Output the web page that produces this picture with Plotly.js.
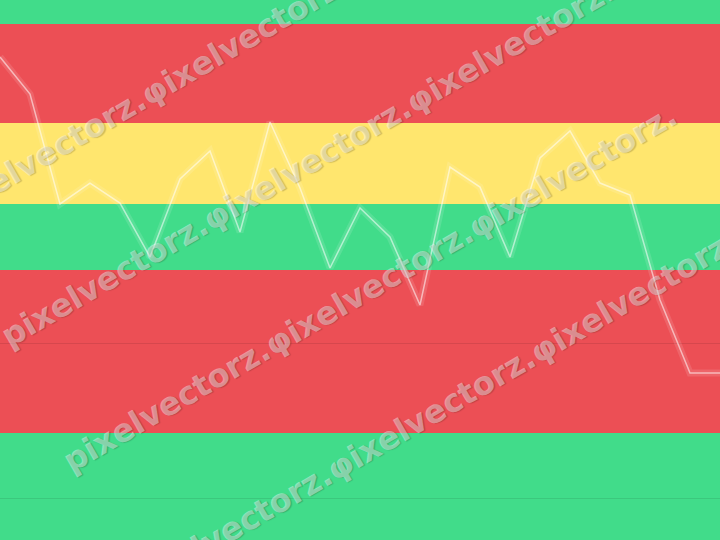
<!DOCTYPE html>
<html>
<head>
<meta charset="utf-8">
<script src="https://cdn.plot.ly/plotly-3.0.1.min.js"></script>
<style>html,body{margin:0;padding:0;background:#41dc8a;}#chart{width:720px;height:540px;}</style>
</head>
<body>
<div id="chart"></div>
<script>
// Series values (index along x, value on hidden y scale)
const xIndex = [0,1,2,3,4,5,6,7,8,9,10,11,12,13,14,15,16,17,18,19,20,21,22,23,24];
const values = [284.5,260.6,189.7,203.2,190.3,155.5,205.8,223.9,171.6,242.6,200.0,148.4,187.1,168.4,124.5,213.5,200.6,155.5,219.4,236.8,203.2,195.5,127.7,80.6,80.6];

// Background bands (lower bound, upper bound, colour)
const bandLow  = [-60, 41.9, 147.1, 189.7, 241.9, 305.8];
const bandHigh = [41.9, 147.1, 189.7, 241.9, 305.8, 360];
const bandColor = ['#41dc8a','#ec4f55','#41dc8a','#ffe66e','#ec4f55','#41dc8a'];

// Gridline values
const gridVals = [0, 100];

// Watermark rows
const watermarkText = 'pixelvectorz.φixelvectorz.φixelvectorz.';
const watermarkRows = 4;

const yRange = [-27.1, 321.3];

const shapes = bandLow.map((lo, i) => ({
  type: 'rect', xref: 'paper', yref: 'y', x0: 0, x1: 1, y0: lo, y1: bandHigh[i],
  fillcolor: bandColor[i], line: {width: 0}, layer: 'below'
}));

// watermark centres in pixel space, rows stacked regularly
const annotations = [];
for (let k = 0; k < watermarkRows; k++) {
  const cx = 246 + 62 * k, cy = 38 + 125 * k;
  annotations.push({
    xref: 'paper', yref: 'paper', x: cx / 720, y: 1 - cy / 540,
    xanchor: 'center', yanchor: 'middle', showarrow: false,
    text: watermarkText, textangle: -30,
    font: {family: 'DejaVu Sans', size: 32, weight: 700,
           color: 'rgba(255,255,255,0.42)', shadow: '1px 1px 1px rgba(0,0,0,0.45)'}
  });
}

const traces = [
  {x: xIndex, y: values, type: 'scatter', mode: 'lines', hoverinfo: 'skip',
   line: {color: 'rgba(255,255,255,0.12)', width: 7}},
  {x: xIndex, y: values, type: 'scatter', mode: 'lines', hoverinfo: 'skip',
   line: {color: 'rgba(255,255,255,0.55)', width: 1.5}}
];

const layout = {
  width: 720, height: 540,
  margin: {l: 0, r: 0, t: 0, b: 0, pad: 0},
  paper_bgcolor: '#41dc8a', plot_bgcolor: '#41dc8a',
  showlegend: false,
  xaxis: {range: [0, 24], visible: false, fixedrange: true},
  yaxis: {range: yRange, showticklabels: false, ticks: '', zeroline: false,
          showgrid: true, tickmode: 'array', tickvals: gridVals,
          gridcolor: 'rgba(0,0,0,0.09)', gridwidth: 1, showline: false, fixedrange: true},
  shapes: shapes,
  annotations: annotations
};

Plotly.newPlot('chart', traces, layout, {displayModeBar: false, staticPlot: true});
</script>
</body>
</html>
